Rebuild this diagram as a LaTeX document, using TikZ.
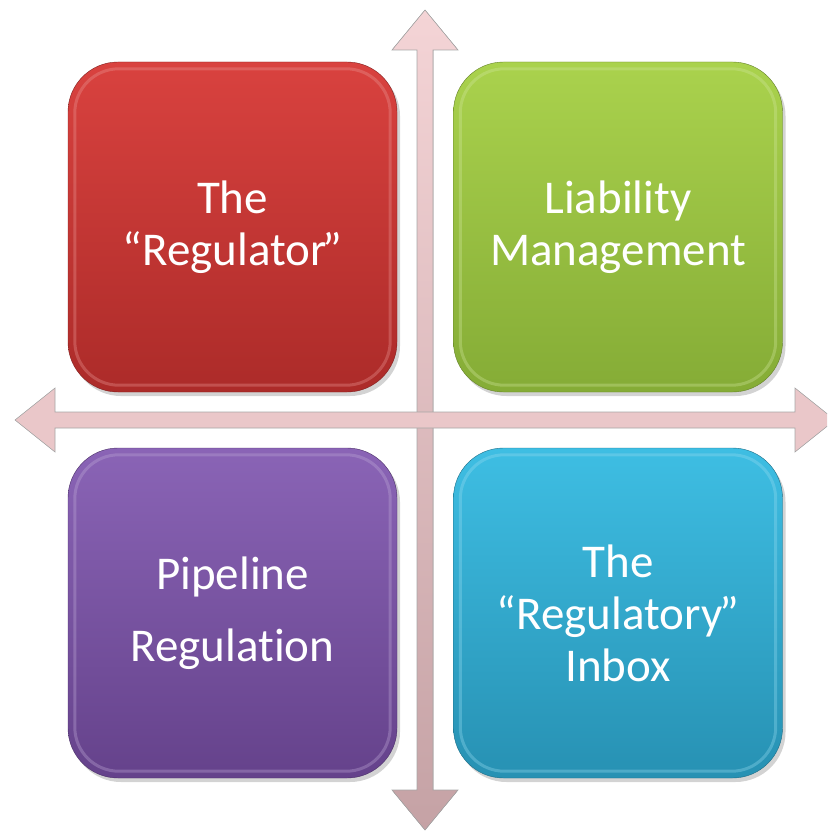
\documentclass[tikz,border=0pt]{standalone}
\usepackage{fontspec}
\setmainfont[Ligatures=NoCommon]{Carlito}
\usepackage{tikz}
\usetikzlibrary{
    shadows,  % drop shadows under the boxes
    positioning,  % better custom positioning
}

\definecolor{regtop}{HTML}{D9423F}
\definecolor{regbot}{HTML}{AC2B29}
\definecolor{liabtop}{HTML}{AAD24D}
\definecolor{liabbot}{HTML}{85AC36}
\definecolor{pipetop}{HTML}{8A64B6}
\definecolor{pipebot}{HTML}{65428B}
\definecolor{inboxtop}{HTML}{3EBEE3}
\definecolor{inboxbot}{HTML}{2791B3}
\definecolor{axistop}{HTML}{F4D4D6}
\definecolor{axisbot}{HTML}{C5A2A5}
\definecolor{axismid}{HTML}{EAC7C9}

\tikzset{
    quad/.style={rectangle, rounded corners=50pt, minimum width=329pt,
        minimum height=330pt, align=center, text=white,
        font=\fontsize{47}{52}\selectfont,
        drop shadow={shadow xshift=3pt, shadow yshift=-4pt, opacity=.35}},
    axisline/.style={draw=black!35, line width=.6pt},
}

\begin{document}
\begin{tikzpicture}[x=1pt, y=-1pt]
    \clip (0, 0) rectangle (827, 832);

    \coordinate (mid) at (425, 420);
    \fill[axisline, top color=axistop, bottom color=axisbot]
        (425, 10) -- (458, 50) -- (433, 50) -- (433, 790) -- (458, 790)
        -- (425, 830) -- (392, 790) -- (417, 790) -- (417, 50) -- (392, 50) -- cycle;
    \fill[axisline, fill=axismid]
        (15, 420) -- (55, 388) -- (55, 412) -- (795, 412) -- (795, 388)
        -- (835, 420) -- (795, 452) -- (795, 428) -- (55, 428) -- (55, 452) -- cycle;

    \node[quad, top color=regtop, bottom color=regbot, draw=regbot!75!black] (reg) at (232.5, 227) {The\\“Regulator\kern-4pt”};
    \node[quad, top color=liabtop, bottom color=liabbot, draw=liabbot!75!black] (liab) at (618, 227) {Liability\\Management};
    \node[quad, top color=pipetop, bottom color=pipebot, draw=pipebot!75!black] (pipe) at (232.5, 613) {Pipeline\\[20pt]Regulation};
    \node[quad, top color=inboxtop, bottom color=inboxbot, draw=inboxbot!75!black] (inbox) at (618, 613) {The\\“Regulatory\kern-3pt”\\Inbox};

    \foreach \n/\c in {reg/regtop, liab/liabtop, pipe/pipetop, inbox/inboxtop}
        \draw[\c!55!white, line width=3pt, opacity=.35, rounded corners=44pt]
            ([shift={(7, 7)}]\n.north west) rectangle ([shift={(-7, -7)}]\n.south east);
\end{tikzpicture}
\end{document}
